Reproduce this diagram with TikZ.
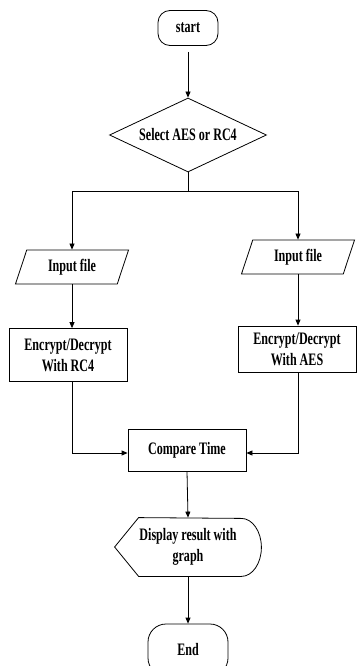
\documentclass[tikz,border=0pt]{standalone}
\usepackage{fontspec}
\setmainfont{Liberation Serif}[FakeStretch=0.69]
\usetikzlibrary{shapes.geometric,arrows.meta}
\begin{document}
\begin{tikzpicture}[x=1pt,y=-1pt,line width=0.8pt,
  font=\fontsize{17.5}{21}\selectfont\bfseries,
  arr/.style={-{Triangle[length=6pt,width=5pt]}},
  term/.style={rectangle, draw=black, rounded corners=#1, inner sep=0pt},
  proc/.style={rectangle, draw=black, minimum width=118pt, align=center, inner sep=0pt},
  io/.style={trapezium, draw=black, trapezium left angle=55, trapezium right angle=125,
    trapezium stretches body, minimum width=113pt, minimum height=34pt, inner sep=0pt}]
\useasboundingbox (0,0) rectangle (356,666);

\node[term=12pt, minimum width=60pt, minimum height=35pt](start) at (188,28) {start};
\node[diamond, draw=black, aspect=2.1, inner sep=0pt, minimum width=157pt, minimum height=74pt](sel) at (188,135) {Select AES or RC4};
\coordinate (split) at (188,191);

\node[io](in1) at (72,267) {Input file};
\node[io](in2) at (298,257) {Input file};

\node[proc, minimum height=53pt](rc) at (68,355) {Encrypt/Decrypt\\With RC4};
\node[proc, minimum height=46pt](aes) at (297,349) {Encrypt/Decrypt\\With AES};

\node[proc, minimum height=42pt](cmp) at (187,450) {Compare Time};

\node[minimum width=146pt, minimum height=58pt, inner sep=0pt, align=center](disp) at (188,547) {Display result with\\graph};
\draw ([xshift=24pt]disp.north west) -- (disp.west) -- ([xshift=24pt]disp.south west)
  -- ([xshift=-20pt]disp.south east) arc[start angle=-90, end angle=90, x radius=20pt, y radius=29pt] -- cycle;

\node[term=18pt, minimum width=80pt, minimum height=52pt](stop) at (188,650) {End};

\draw[arr] ([yshift=-6pt]start.south) -- (sel.north);
\draw (sel.south) -- (split);
\draw[arr] (split) -| (in1.north);
\draw[arr] (split) -| (in2.north);
\draw[arr] (in1.south) -- (in1.south |- rc.north);
\draw[arr] (in2.south) -- (in2.south |- aes.north);
\draw[arr] (in1.south |- rc.south) |- ([yshift=-3pt]cmp.west);
\draw[arr] (in2.south |- aes.south) |- ([yshift=-3pt]cmp.east);
\draw[arr] (cmp.south) -- (disp.north);
\draw[arr] (disp.south) -- (stop.north);
\end{tikzpicture}
\end{document}
